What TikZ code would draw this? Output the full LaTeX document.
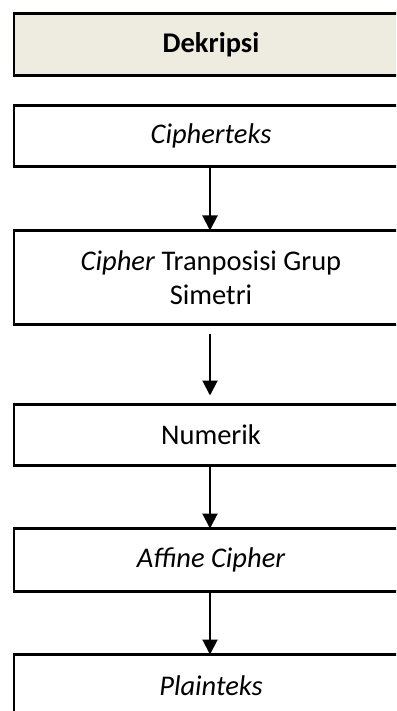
\documentclass[tikz,border=0pt]{standalone}
\usepackage{fontspec}
\setmainfont{Carlito}
\usetikzlibrary{arrows.meta,positioning}

\begin{document}
\begin{tikzpicture}
[x=1pt, y=1pt, font=\fontsize{28.5}{34}\selectfont,
% STYLES
stage/.style={rectangle, draw, line width=2.6pt, outer sep=0pt, minimum width=394pt, align=center, inner sep=0pt},
header/.style={stage, fill={rgb,255:red,238;green,236;blue,225}, font=\fontsize{28.5}{34}\selectfont\bfseries},
flow/.style={-{Triangle[width=15pt,length=15pt]}, line width=2pt}]

\clip (0,0) rectangle (396,-711);

% Stages
\node [header, minimum height=62pt] (dekripsi) at (211,-44.5) {Dekripsi};
\node [stage, minimum height=61pt, below=30pt of dekripsi] (cipherteks) {\itshape Cipherteks};
\node [stage, minimum height=94pt, below=64pt of cipherteks] (transposisi) {\textit{Cipher} Tranposisi Grup\\Simetri};
\node [stage, minimum height=61pt, below=80pt of transposisi] (numerik) {Numerik};
\node [stage, minimum height=63pt, below=63pt of numerik] (affine) {\itshape Affine Cipher};
\node [stage, minimum height=62pt, below=63pt of affine] (plainteks) {\itshape Plainteks};

%%%%%%%%%%%%%%%%

\draw[flow] (cipherteks.south -| 210,0) -- (transposisi.north -| 210,0);
\draw[flow, shorten <=9pt, shorten >=9pt] (transposisi.south -| 210,0) -- (numerik.north -| 210,0);
\draw[flow] (numerik.south -| 210,0) -- (affine.north -| 210,0);
\draw[flow] (affine.south -| 210,0) -- (plainteks.north -| 210,0);

\end{tikzpicture}
\end{document}
